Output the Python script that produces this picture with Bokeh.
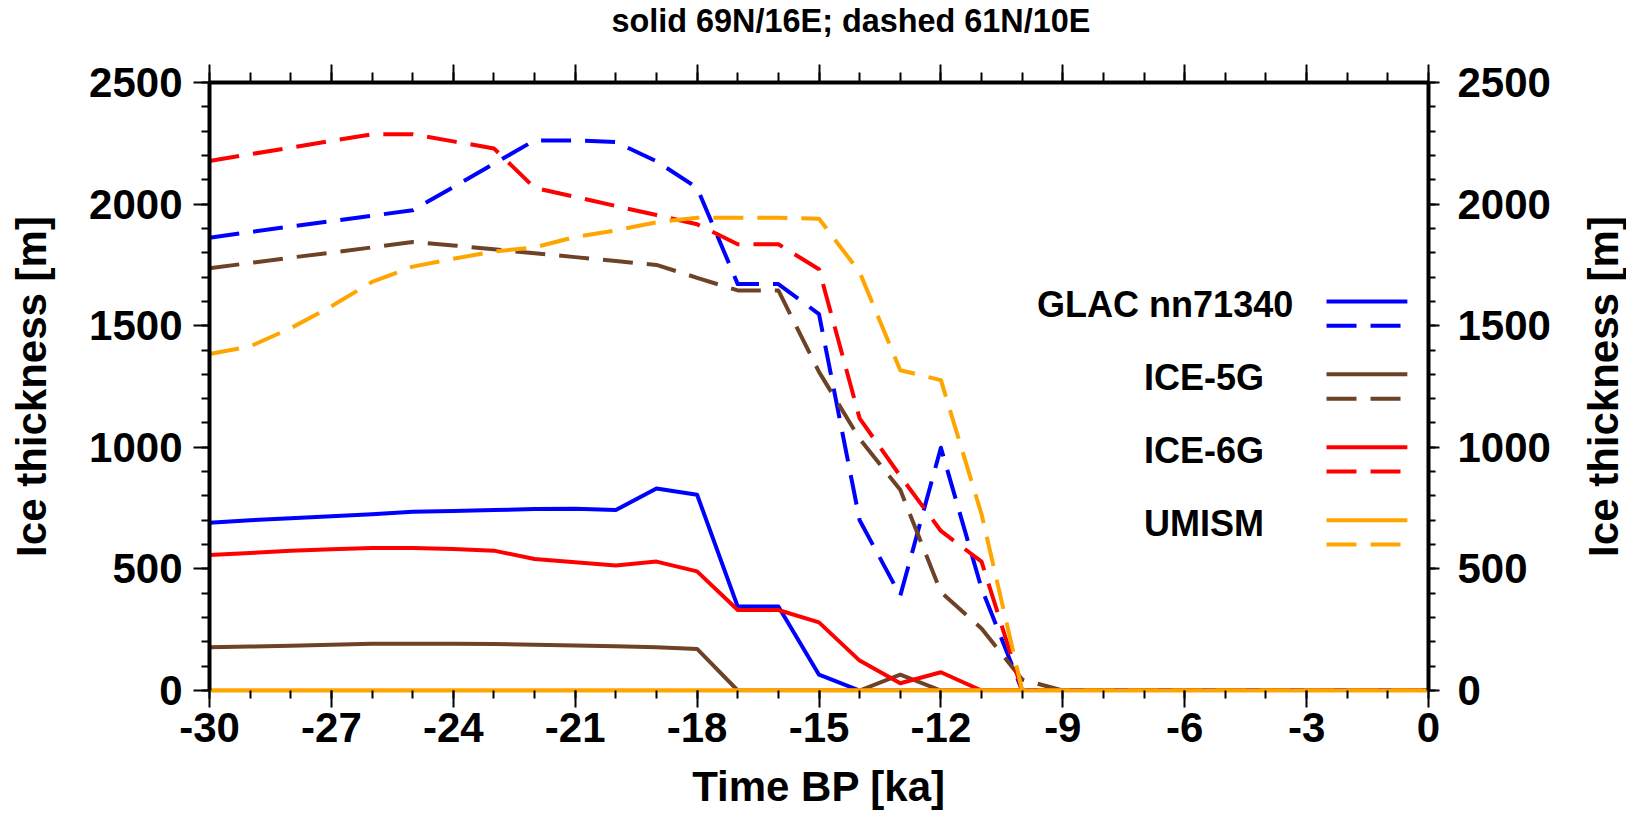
import math
from bokeh.plotting import figure
from bokeh.models import FixedTicker, LinearAxis, Label, Range1d
from bokeh.layouts import row
from bokeh.embed import file_html
from bokeh.resources import INLINE

# ---------------- data ----------------
time_ka = [-30, -29, -28, -27, -26, -25, -24, -23, -22, -21, -20, -19, -18, -17, -16,
           -15, -14, -13, -12, -11, -10, -9, -8, -7, -6, -5, -4, -3, -2, -1, 0]

# solid: 69N/16E
glac_solid = [690, 700, 708, 716, 725, 735, 738, 742, 746, 747, 742, 831, 805, 345, 345,
              65, 0, 0, 0, 0, 0, 0, 0, 0, 0, 0, 0, 0, 0, 0, 0]
ice5g_solid = [178, 181, 184, 188, 192, 192, 192, 191, 188, 185, 182, 178, 171, 0, 0,
               0, 0, 65, 0, 0, 0, 0, 0, 0, 0, 0, 0, 0, 0, 0, 0]
ice6g_solid = [557, 565, 575, 581, 586, 586, 582, 575, 541, 527, 514, 530, 490, 331, 331,
               280, 123, 30, 75, 0, 0, 0, 0, 0, 0, 0, 0, 0, 0, 0, 0]
umism_solid = [0, 0, 0, 0, 0, 0, 0, 0, 0, 0, 0, 0, 0, 0, 0,
               0, 0, 0, 0, 0, 0, 0, 0, 0, 0, 0, 0, 0, 0, 0, 0]

# dashed: 61N/10E
glac_dashed = [1862, 1885, 1908, 1930, 1952, 1975, 2070, 2166, 2262, 2262, 2255, 2176, 2067, 1671, 1671,
               1548, 700, 390, 998, 420, 0, 0, 0, 0, 0, 0, 0, 0, 0, 0, 0]
ice5g_dashed = [1736, 1758, 1780, 1800, 1822, 1844, 1830, 1814, 1798, 1782, 1766, 1750, 1697, 1645, 1645,
                1310, 1035, 825, 405, 255, 45, 0, 0, 0, 0, 0, 0, 0, 0, 0, 0]
ice6g_dashed = [2177, 2205, 2232, 2260, 2287, 2287, 2258, 2229, 2067, 2030, 1992, 1955, 1917, 1835, 1835,
                1732, 1119, 882, 656, 530, 0, 0, 0, 0, 0, 0, 0, 0, 0, 0, 0]
umism_dashed = [1384, 1415, 1490, 1580, 1680, 1743, 1775, 1805, 1822, 1865, 1892, 1925, 1944, 1944, 1944,
                1940, 1720, 1317, 1276, 725, 0, 0, 0, 0, 0, 0, 0, 0, 0, 0, 0]

series_names = ["GLAC nn71340", "ICE-5G", "ICE-6G", "UMISM"]
series_colors = ["#0000ff", "#6e4226", "#ff0000", "#ffa500"]
solid_series = [glac_solid, ice5g_solid, ice6g_solid, umism_solid]
dashed_series = [glac_dashed, ice5g_dashed, ice6g_dashed, umism_dashed]

x_ticks = [-30, -27, -24, -21, -18, -15, -12, -9, -6, -3, 0]
x_tick_labels = ["-30", "-27", "-24", "-21", "-18", "-15", "-12", "-9", "-6", "-3", "0"]
x_minor_ticks = time_ka
y_ticks = [0, 500, 1000, 1500, 2000, 2500]
y_tick_labels = ["0", "500", "1000", "1500", "2000", "2500"]
y_minor_ticks = [0, 100, 200, 300, 400, 500, 600, 700, 800, 900, 1000, 1100, 1200, 1300,
                 1400, 1500, 1600, 1700, 1800, 1900, 2000, 2100, 2200, 2300, 2400, 2500]

title_text = "solid 69N/16E; dashed 61N/10E"
x_title = "Time BP [ka]"
y_title = "Ice thickness [m]"

# ---------------- styling / layout ----------------
FONT = "Liberation Sans"
DASH = "30 14"
LW = 4
H = 813
W_MAIN = 1566
W_STRIP = 60

p = figure(width=W_MAIN, height=H, x_range=Range1d(-30, 0), y_range=Range1d(0, 2500),
           output_backend="svg", toolbar_location=None,
           min_border_left=209, min_border_right=138, min_border_top=81, min_border_bottom=123)
p.xgrid.visible = False
p.ygrid.visible = False
p.outline_line_color = None
p.background_fill_color = "white"
p.border_fill_color = "white"

p.title.text = title_text
p.title.align = "left"
p.title.offset = 402
p.title.standoff = 0
p.title.text_font = FONT
p.title.text_font_style = "bold"
p.title.text_font_size = "32.4px"
p.title.text_color = "black"

right_axis = LinearAxis()
p.add_layout(right_axis, "right")
top_axis = LinearAxis()
p.add_layout(top_axis, "above")


def style_axis(ax, ticks, minor, labels, major_out, minor_out, standoff):
    ax.ticker = FixedTicker(ticks=ticks, minor_ticks=minor)
    ax.major_label_overrides = {t: l for t, l in zip(ticks, labels)}
    ax.axis_line_color = "black"
    ax.axis_line_width = 4
    ax.major_tick_line_color = "black"
    ax.minor_tick_line_color = "black"
    ax.major_tick_line_width = 2
    ax.minor_tick_line_width = 2
    ax.major_tick_in = 0
    ax.major_tick_out = major_out
    ax.minor_tick_in = 0
    ax.minor_tick_out = minor_out
    ax.major_label_text_font = FONT
    ax.major_label_text_font_style = "bold"
    ax.major_label_text_font_size = "42px"
    ax.major_label_text_color = "black"
    ax.major_label_standoff = standoff
    ax.axis_label_text_font = FONT
    ax.axis_label_text_font_style = "bold"
    ax.axis_label_text_font_size = "42px"
    ax.axis_label_text_color = "black"


bottom_axis = p.below[0]
left_axis = p.left[0]
style_axis(bottom_axis, x_ticks, x_minor_ticks, x_tick_labels, 17, 8, 5)
style_axis(left_axis, y_ticks, y_minor_ticks, y_tick_labels, 16, 8, 11)
style_axis(right_axis, y_ticks, y_minor_ticks, y_tick_labels, 11, 7, 18)
# top axis: ticks only (blank labels keep room between the frame and the title)
style_axis(top_axis, x_ticks, x_minor_ticks, ["\u00a0" for _ in x_ticks], 18, 10, 9)
top_axis.major_label_text_font_size = "12px"
top_axis.major_label_text_color = "white"
# the UMISM line at zero covers the lower frame edge in the original
bottom_axis.axis_line_color = series_colors[3]

bottom_axis.axis_label = x_title
bottom_axis.axis_label_standoff = 18
left_axis.axis_label = y_title
left_axis.axis_label_standoff = 31

# data lines: all solid first, then all dashed
for vals, col in zip(solid_series, series_colors):
    p.line(time_ka, vals, line_color=col, line_width=LW, line_join="round")
for vals, col in zip(dashed_series, series_colors):
    p.line(time_ka, vals, line_color=col, line_width=LW, line_dash=DASH, line_join="round")

# ---------------- legend (inside the frame, data units) ----------------
LEG_Y_TOP = 1600
LEG_STEP = 300
LEG_DASH_DY = 100
LEG_TEXT_DY = -12
LEG_LINE_X0, LEG_LINE_X1 = -2.51, -0.52
LEG_TEXT_RIGHT = [-3.33, -4.05, -4.05, -4.05]

leg_y = [LEG_Y_TOP - i * LEG_STEP for i in range(len(series_names))]
p.segment(x0=[LEG_LINE_X0] * 4, x1=[LEG_LINE_X1] * 4, y0=leg_y, y1=leg_y,
          line_color=series_colors, line_width=4)
leg_yd = [y - LEG_DASH_DY for y in leg_y]
p.segment(x0=[LEG_LINE_X0] * 4, x1=[LEG_LINE_X1] * 4, y0=leg_yd, y1=leg_yd,
          line_color=series_colors, line_width=4, line_dash=DASH)
for name, y, xr in zip(series_names, leg_y, LEG_TEXT_RIGHT):
    p.add_layout(Label(x=xr, y=y + LEG_TEXT_DY, text=name, text_align="right",
                       text_baseline="alphabetic", text_font=FONT, text_font_style="bold",
                       text_font_size="36px", text_color="black"))

# ---------------- right-hand axis title (reads bottom to top, as on the left) ----------------
strip = figure(width=W_STRIP, height=H, x_range=Range1d(0, W_STRIP), y_range=Range1d(0, 2500),
               output_backend="svg", toolbar_location=None,
               x_axis_location=None, y_axis_location=None,
               min_border_left=0, min_border_right=0, min_border_top=0, min_border_bottom=0)
for g in strip.grid:
    g.visible = False
strip.outline_line_color = None
strip.background_fill_color = "white"
strip.border_fill_color = "white"
strip.add_layout(Label(x=37, y=1250, text=y_title, angle=math.pi / 2, text_align="center",
                       text_baseline="alphabetic", text_font=FONT, text_font_style="bold",
                       text_font_size="42px", text_color="black"))

layout = row(p, strip)
open("out.html", "w").write(file_html(layout, INLINE))
